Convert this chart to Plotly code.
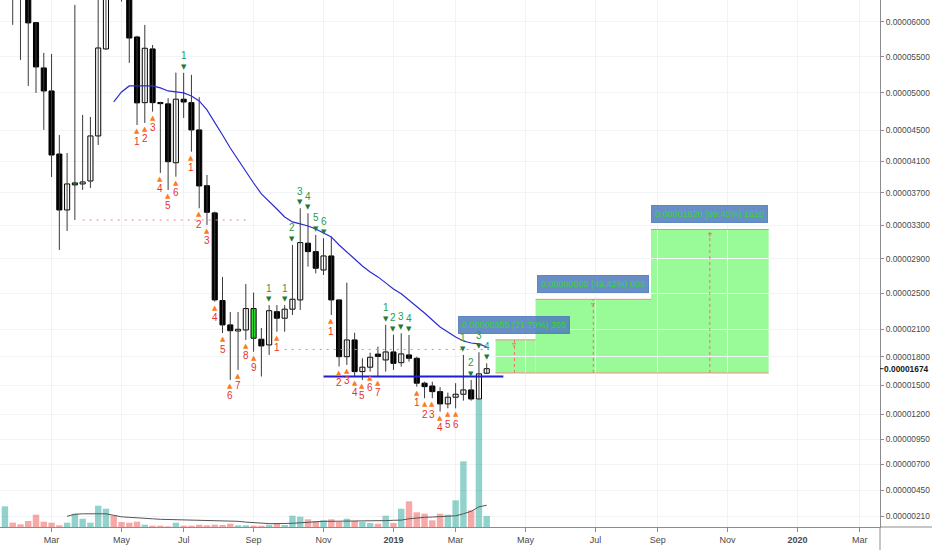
import numpy as np
import pandas as pd
import plotly.graph_objects as go

# ---------------- data (prices in units of 1e-8) ----------------
first_week = "2018-01-15"   # weekly candles, Monday starts

opens = [6500, 7200, 6900, 6600, 5990, 5345, 5027, 4190, 3486, 3797,
         3809, 3846, 4425, 5612, 6800, 6500, 6450, 5783, 4868, 5612,
         4870, 4852, 4078, 4915, 4868, 4504, 3787, 3450, 2420, 2148,
         2081, 2092, 2330, 1991, 1929, 2295, 2222, 2323, 2427, 3085,
         2985, 2770, 2934, 2427, 1802, 1983, 1643, 1690, 1830, 1767,
         1853, 1738, 1821, 1785, 1521, 1492, 1433, 1306, 1375, 1406,
         1451, 1357, 1626]
highs = [7500, 7600, 7300, 6700, 5990, 5556, 5541, 4438, 4203, 6250,
         4703, 4676, 6400, 7000, 7200, 6700, 6500, 5800, 5957, 5669,
         4880, 4928, 5280, 5276, 5248, 4942, 3922, 3466, 2690, 2292,
         2292, 2609, 2510, 2114, 2369, 2369, 2369, 3064, 3507, 3446,
         3183, 3144, 3163, 2427, 2624, 2062, 1785, 1845, 1911, 2148,
         2040, 2056, 2037, 1802, 1537, 1537, 1479, 1423, 1521, 1821,
         1555, 1850, 1731]
lows = [6400, 5958, 5457, 5096, 5000, 4504, 3897, 3005, 3231, 3364,
        3734, 3759, 4307, 5600, 6400, 6300, 5415, 4569, 4596, 4747,
        3948, 3734, 3900, 4663, 4220, 3507, 3304, 2408, 2059, 1555,
        1661, 1983, 1856, 1591, 1821, 2073, 2073, 2258, 2314, 2809,
        2731, 2712, 2258, 1697, 1714, 1591, 1555, 1643, 1591, 1643,
        1661, 1697, 1749, 1485, 1365, 1365, 1227, 1261, 1261, 1340,
        1340, 1347, 1619]
closes = [7200, 6900, 6600, 5986, 5359, 5027, 4177, 3486, 3809, 3822,
          3834, 4425, 5626, 6600, 6500, 6450, 5768, 4865, 5622, 4868,
          4855, 4091, 4915, 4877, 4504, 3784, 3458, 2427, 2148, 2084,
          2100, 2330, 2002, 1918, 2306, 2222, 2323, 2435, 3092, 2985,
          2790, 2934, 2427, 1802, 1983, 1643, 1690, 1796, 1805, 1853,
          1731, 1832, 1785, 1521, 1485, 1433, 1306, 1375, 1406, 1451,
          1357, 1619, 1674]
volumes = [207, 44, 27, 60, 123, 53, 43, 17, 43, 133,
           83, 43, 213, 183, 113, 50, 43, 53, 23, 13,
           13, 7, 43, 13, 13, 23, 17, 23, 20, 33,
           17, 17, 13, 13, 23, 40, 20, 113, 103, 77,
           60, 67, 77, 50, 83, 60, 50, 40, 33, 113,
           40, 183, 257, 147, 133, 67, 133, 123, 267, 657,
           167, 1280, 110]
volume_ma = [None, None, None, None, None, None, None, None,
             107, 127, 132, 134, 134, 132, 117, 102, 97, 94,
             87, 82, 77, 75, 74, 74, 74, 74, 69, 67,
             64, 61, 57, 49, 42, 37, 34, 34, 34, 37,
             42, 49, 52, 57, 57, 57, 57, 59, 59, 59,
             59, 64, 67, 69, 82, 92, 97, 100, 102, 105,
             112, 132, 157, 202, 217]
price_ma = [None, None, None, None, None, None, None, None, None, None,
            None, None, None, None,
            4878, 5014, 5096, 5096, 5096, 5096, 5069, 5027, 5014, 5000,
            4959, 4891, 4770, 4609, 4438, 4268, 4113, 3960, 3821, 3684,
            3584, 3498, 3400, 3340, 3316, 3291, 3255, 3207, 3160, 3064,
            2981, 2899, 2817, 2747, 2690, 2621, 2552, 2496, 2427, 2359,
            2281, 2203, 2125, 2070, 2016, 1972, 1950, 1940, 1907]
td_buy = [0, 0, 0, 0, 0, 0, 0, 0, 0, 0, 0, 0, 0, 0, 0, 0, 0,
          1, 2, 3, 4, 5, 6, 0, 1, 2, 3, 4, 5, 6, 7, 8, 9, 0, 0, 1,
          0, 0, 0, 0, 0, 0, 1, 2, 3, 4, 5, 6, 7, 0, 0, 0, 0,
          1, 2, 3, 4, 5, 6, 0, 0, 0, 0]
td_sell = [0, 0, 0, 0, 0, 0, 0, 0, 0, 0, 0, 0, 0, 0, 0, 0, 0, 0, 0, 0, 0, 0, 0,
           1, 0, 0, 0, 0, 0, 0, 0, 0, 0, 0, 1, 0, 1, 2, 3, 4, 5, 6,
           0, 0, 0, 0, 0, 0, 0, 1, 2, 3, 4, 0, 0, 0, 0, 0, 0, 1, 2, 3, 4]
highlight_weeks = ["2018-03-19", "2018-08-27"]

tdst_starts = ["2018-03-26", "2018-09-24"]
tdst_ends = ["2018-08-20", "2019-03-27"]
tdst_levels = [3364, 1880]
support_start, support_end, support_level = "2018-10-29", "2019-04-09", 1591

entry_price = 1629
target_gains = [355, 805, 1620]
target_starts = ["2019-04-02", "2019-05-08", "2019-08-20"]
target_ends = ["2019-05-08", "2019-08-20", "2019-12-04"]
target_marks = ["2019-04-19", "2019-06-29", "2019-10-12"]

price_ticks = [6000, 5500, 5000, 4500, 4100, 3700, 3300, 2900, 2500, 2100,
               1800, 1500, 1200, 950, 700, 450, 210]
last_price = 1674
month_ticks = ["2018-02-26", "2018-04-30", "2018-06-25", "2018-08-27", "2018-10-29",
               "2018-12-31", "2019-02-25", "2019-04-29", "2019-07-01", "2019-08-26",
               "2019-10-28", "2019-12-30", "2020-02-24"]
month_labels = ["Mar", "May", "Jul", "Sep", "Nov", "<b>2019</b>", "Mar", "May", "Jul",
                "Sep", "Nov", "<b>2020</b>", "Mar"]

# ---------------- scale ----------------
SCALE_OFFSET = 10000.0   # the chart's compressed price scale


def ty(p):
    return np.log(np.asarray(p, dtype=float) + SCALE_OFFSET)


DAY = 86400000
dates = pd.date_range(first_week, periods=len(opens), freq="7D")
FONT = "Liberation Sans, Arial, sans-serif"

fig = go.Figure()

# wicks
wx, wy = [], []
for d, h, l in zip(dates, highs, lows):
    wx += [d, d, None]
    wy += [float(ty(h)), float(ty(l)), None]
fig.add_trace(go.Scatter(x=wx, y=wy, mode="lines", line=dict(color="#3a3a3a", width=1),
                         hoverinfo="skip"))

# bodies
o = np.array(opens, float)
c = np.array(closes, float)
lo = np.minimum(o, c)
hi = np.maximum(o, c)
base = ty(lo)
height = ty(hi) - base
hl = set(pd.to_datetime(highlight_weeks))
body_colors = []
for d, oo, cc in zip(dates, o, c):
    if d in hl:
        body_colors.append("#2FE02F")
    elif cc >= oo:
        body_colors.append("#FFFFFF")
    else:
        body_colors.append("#000000")
fig.add_trace(go.Bar(x=dates, y=height, base=base, width=4.6 * DAY,
                     marker=dict(color=body_colors, line=dict(color="#000000", width=1)),
                     hoverinfo="skip"))

# moving average
fig.add_trace(go.Scatter(x=dates, y=ty(np.array(price_ma, dtype=float)), mode="lines",
                         line=dict(color="#2B2BD3", width=1.2), hoverinfo="skip"))

# TDST dotted lines
for s, e, lv in zip(tdst_starts, tdst_ends, tdst_levels):
    fig.add_trace(go.Scatter(x=[s, e], y=[float(ty(lv))] * 2, mode="lines",
                             line=dict(color="#F08080", width=1, dash="2px,5px"),
                             hoverinfo="skip"))
# support line
fig.add_trace(go.Scatter(x=[support_start, support_end], y=[float(ty(support_level))] * 2,
                         mode="lines", line=dict(color="#1F1FD0", width=2), hoverinfo="skip"))

# volume
vcol = ["rgba(38,166,154,0.5)" if cc >= oo else "rgba(239,83,80,0.5)" for oo, cc in zip(o, c)]
fig.add_trace(go.Bar(x=dates, y=volumes, width=5.8 * DAY, marker=dict(color=vcol, line=dict(width=0)),
                     yaxis="y2", hoverinfo="skip"))
fig.add_trace(go.Scatter(x=dates, y=volume_ma, mode="lines", line=dict(color="#555555", width=1),
                         yaxis="y2", hoverinfo="skip"))

# target boxes
shapes = []
annotations = []
y_entry = float(ty(entry_price))
for s, e, m, g in zip(target_starts, target_ends, target_marks, target_gains):
    yt = float(ty(entry_price + g))
    shapes.append(dict(type="rect", xref="x", yref="y", x0=s, x1=e, y0=y_entry, y1=yt,
                       fillcolor="#98FB98", line=dict(width=0), layer="below"))
    shapes.append(dict(type="line", xref="x", yref="y", x0=s, x1=e, y0=yt, y1=yt,
                       line=dict(color="#F28B82", width=1)))
    shapes.append(dict(type="line", xref="x", yref="y", x0=m, x1=m, y0=y_entry, y1=yt,
                       line=dict(color="#E57373", width=1, dash="3px,3px")))
    annotations.append(dict(x=m, y=yt, xref="x", yref="y", text="▿", showarrow=False,
                            yshift=-5, font=dict(size=8, color="#E06666", family="DejaVu Sans")))
    label = f"{g * 1e-8:.8f} ({g / entry_price * 100:.2f}%) {g}"
    annotations.append(dict(x=m, y=yt, xref="x", yref="y", text=label, showarrow=False,
                            yanchor="bottom", yshift=6, bgcolor="rgba(78,122,188,0.85)",
                            bordercolor="rgba(78,122,188,0.85)", borderpad=3,
                            font=dict(size=9, color="#34D634", family=FONT)))
shapes.append(dict(type="line", xref="x", yref="y", x0=target_starts[0], x1=target_ends[-1],
                   y0=y_entry, y1=y_entry, line=dict(color="#F28B82", width=1)))

# TD sequential counts
for d, n, lw in zip(dates, td_buy, lows):
    if n:
        yl = float(ty(lw))
        annotations.append(dict(x=d, y=yl, xref="x", yref="y", text="▲", showarrow=False,
                                yshift=-6, font=dict(size=7, color="#FF7A1A", family="DejaVu Sans")))
        annotations.append(dict(x=d, y=yl, xref="x", yref="y", text=str(n), showarrow=False,
                                yshift=-16, font=dict(size=10, color="#E8312F", family=FONT)))
for d, n, hw in zip(dates, td_sell, highs):
    if n:
        yh = float(ty(hw))
        annotations.append(dict(x=d, y=yh, xref="x", yref="y", text="▼", showarrow=False,
                                yshift=6, font=dict(size=7, color="#1F7A36", family="DejaVu Sans")))
        annotations.append(dict(x=d, y=yh, xref="x", yref="y", text=str(n), showarrow=False,
                                yshift=17, font=dict(size=10, color="#2E9A4A", family=FONT)))

# last price label
annotations.append(dict(x=1, y=float(ty(last_price)), xref="paper", yref="y",
                        text=f"<b>{last_price * 1e-8:.8f}</b>", showarrow=False,
                        xanchor="left", xshift=2, font=dict(size=8.4, color="#131722", family=FONT)))
shapes.append(dict(type="line", xref="paper", yref="y", x0=1, x1=1.004,
                   y0=float(ty(last_price)), y1=float(ty(last_price)),
                   line=dict(color="#131722", width=1)))
# axis border extensions
shapes.append(dict(type="line", xref="paper", yref="paper", x0=1, x1=1.07, y0=0, y1=0,
                   line=dict(color="#8c8c8c", width=1)))
shapes.append(dict(type="line", xref="paper", yref="paper", x0=1, x1=1, y0=-0.05, y1=0,
                   line=dict(color="#8c8c8c", width=1)))

fig.update_layout(
    width=932, height=550,
    margin=dict(l=0, r=52, t=0, b=23),
    paper_bgcolor="white", plot_bgcolor="white",
    showlegend=False, barmode="overlay",
    font=dict(family=FONT, size=9, color="#4a4a4a"),
    xaxis=dict(type="date", range=["2018-01-10 13:12", "2020-03-13 07:12"],
               tickvals=month_ticks, ticktext=month_labels, ticks="outside", ticklen=4,
               tickcolor="#8c8c8c", showgrid=True, gridcolor="#F2F3F5", showline=True,
               linecolor="#8c8c8c", linewidth=1, zeroline=False,
               tickfont=dict(size=9, color="#4a4a4a", family=FONT)),
    yaxis=dict(side="right", range=[9.2212, 9.7003], tickvals=ty(price_ticks),
               ticktext=[f"{p * 1e-8:.8f}" for p in price_ticks], ticks="outside", ticklen=3,
               tickcolor="#8c8c8c", showgrid=True, gridcolor="#F2F3F5", showline=True,
               linecolor="#8c8c8c", linewidth=1, zeroline=False,
               tickfont=dict(size=8.4, color="#4a4a4a", family=FONT)),
    yaxis2=dict(overlaying="y", range=[0, 5270], visible=False),
    shapes=shapes, annotations=annotations,
)

fig.write_html("out.html", config={"displayModeBar": False},
               post_script="document.body.style.margin='0';document.body.style.overflow='hidden';")
